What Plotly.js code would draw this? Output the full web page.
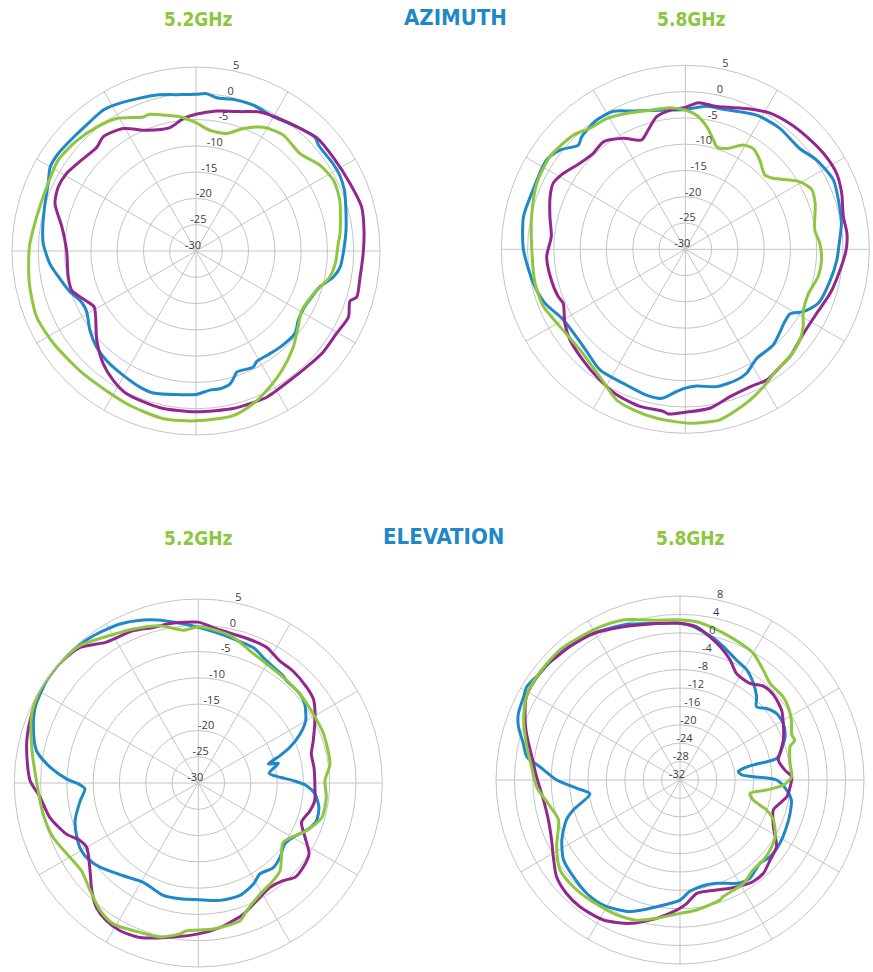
<!DOCTYPE html>
<html><head><meta charset="utf-8">
<script src="https://cdn.plot.ly/plotly-3.0.1.min.js"></script>
<style>html,body{margin:0;padding:0;background:#fff;overflow:hidden;} #chart{width:890px;height:972px;}</style>
</head><body><div id="chart"></div>
<script>
// ---------- AZIMUTH 5.2 GHz ----------
const az52BlueTheta = [0,3.9,7.7,13.8,21.5,30,40.4,46.4,49.2,57.5,62.3,67.8,73.6,82.2,88.5,96.3,100.7,106.2,111.7,118.2,124.1,129.9,138.8,145.9,151.3,153.7,161.4,162.6,165.6,170.1,174.3,180,186.4,196.7,202.4,210.3,219.3,226,233.2,240,243.2,247,252,259.3,265,272.8,278.9,287.4,294.5,299.9,305.3,312.9,320.6,326.7,334,345.8,354.2];
const az52BlueR = [-0.2,0.0,-0.6,-0.3,-0.2,-0.5,0.6,1.3,0.8,0.9,0.9,0.5,-0.3,-1.2,-1.8,-2.4,-3.4,-5.5,-6.3,-6.8,-6.5,-5.5,-5.7,-6.0,-6.0,-5.4,-5.7,-5.2,-3.9,-3.4,-3.4,-2.7,-2.5,-1.8,-2.0,-2.6,-3.1,-3.7,-4.8,-6.1,-6.3,-6.0,-4.8,-3.4,-2.1,-0.9,-0.5,0.1,0.9,2.0,2.1,1.8,1.8,2.1,1.5,0.6,-0.1];
const az52PurpleTheta = [0,8.4,17.5,24.7,33.8,40.4,46.8,55.6,66.4,75.1,83,90.9,99,106,108,113.4,120.4,128.4,136.3,144,154.2,160.5,166.7,180,192.9,205.9,212.6,219.4,228,241.2,245.4,252.4,258.5,270,280.1,288.6,294.9,300.9,308.4,316.3,321,329.3,337.8,348.1,354.5];
const az52PurpleR = [-4.0,-3.1,-2.2,-0.9,-0.1,0.6,1.5,1.6,2.0,2.6,2.2,1.8,1.6,1.8,0.8,1.6,1.0,0.9,0.5,0.4,0.9,0.8,0.8,0.6,0.6,0.2,-0.8,-2.2,-4.6,-7.9,-7.1,-5.2,-5.2,-5.4,-4.1,-1.7,-1.1,-1.3,-2.2,-2.7,-2.0,-2.9,-5.2,-6.0,-4.7];
const az52GreenTheta = [0,6.6,14.6,21.2,28.6,37,46.9,55.4,62.8,70.6,83.1,87,95.2,101,110,119.3,126.6,134.6,144.3,151.4,159.4,167.2,180,191,204.4,222.6,237,247.5,258.9,271.4,282,293.2,303.4,312.8,321.3,329,338.5,340.8,347.8,353.9];
const az52GreenR = [-5.6,-6.9,-6.9,-5.0,-3.2,-2.4,-2.9,-1.3,-0.6,-1.0,-2.4,-2.9,-3.4,-4.1,-6.2,-6.9,-5.8,-4.0,-2.0,-0.6,1.0,2.1,2.3,2.5,1.9,1.7,2.3,2.8,2.3,1.7,1.0,0.9,1.4,0.9,0.2,-0.6,-2.6,-2.5,-3.6,-4.4];

// ---------- AZIMUTH 5.8 GHz ----------
const az58BlueTheta = [0,8.5,15.2,28,38,48.6,55.8,64.9,72.1,80.6,87.8,94,102,112.1,117.8,121.7,126,137.4,146.8,153.7,158.6,167.1,175.3,180,183.5,189,194.9,204.8,215.3,226.3,240,249,257.4,270,281.4,290,302.8,308.4,314.3,317.4,325.6,332.4,339.4,351];
const az58BlueR = [-3.4,-2.5,-2.4,-1.1,-0.8,-1.0,0.2,1.1,0.6,0.1,-0.7,-1.1,-1.8,-2.7,-4.6,-6.6,-6.6,-5.3,-5.2,-3.7,-3.3,-3.2,-3.9,-3.6,-2.9,-1.3,-1.3,-1.9,-1.9,-3.2,-3.2,-1.4,-0.4,0.8,1.4,1.1,1.4,0.4,-1.6,-0.9,-0.2,-0.4,-1.9,-3.2];
const az58PurpleTheta = [0,5.1,12.4,24.8,31.9,39.7,47.1,55.2,63.3,70.3,78.3,84.4,90.2,97.6,106.9,116,125.4,135.7,141.1,148.1,154.8,163.1,171.2,180,185.9,187.7,196.1,205.2,214.9,222.7,231.8,238.4,246.1,249.6,258.6,267,275.4,283.6,291.3,296.6,301,309.2,316.2,322.7,330.8,338.2,342.8,347.8,353.7];
const az58PurpleR = [-3.0,-2.0,-2.2,-0.6,0.5,1.1,1.5,2.0,2.2,1.6,0.7,0.9,0.6,-0.3,-1.2,-2.2,-2.4,-1.5,-1.3,-0.7,-1.1,-0.7,0.6,1.0,1.5,1.1,1.1,0.6,-0.5,-1.3,-2.1,-3.1,-4.6,-4.2,-3.8,-3.6,-4.4,-3.5,-2.4,-1.9,-2.5,-4.1,-4.7,-4.3,-5.8,-7.6,-6.2,-4.2,-3.4];
const az58GreenTheta = [0,4.8,9.9,14.4,17,22.3,29.1,34,39.9,47,51.1,59.5,64.8,70.5,81.5,87.4,94.5,101.6,109.7,114.3,118.5,123.2,128.3,135.7,142.9,150.4,156.8,162.3,168.5,178.5,189.6,197.9,204.5,213.8,226.3,238.3,248,257.3,270,282,293.9,304.4,315.6,321.8,329,338,345.8,353.8];
const az58GreenR = [-3.5,-4.4,-6.3,-8.5,-9.6,-9.3,-7.3,-6.9,-7.9,-9.3,-8.5,-4.7,-3.4,-3.8,-5.1,-4.4,-4.0,-4.2,-5.1,-5.0,-4.5,-3.2,-2.2,-1.5,-1.2,0.1,1.2,2.1,3.1,3.1,2.6,2.1,1.5,-0.8,-2.3,-2.0,-0.9,-0.7,-0.8,-0.1,0.9,1.2,0.4,-0.7,-1.0,-2.0,-2.7,-2.9];

// ---------- ELEVATION 5.2 GHz ----------
const el52BlueTheta = [0,6.9,13.7,22.1,29.2,38.4,40.8,48.8,53.5,59.9,64.3,68.7,71.5,74.8,76.2,82.2,86,88.6,91.4,95.4,101.4,107.7,112.7,119.8,125.1,132.3,138.4,145.9,151.4,159.7,169.6,180,189,197.3,203,209,219,229.4,234.4,239.9,245.9,253,261.5,267,269.2,271.7,276,281.3,288.6,294.9,304,314.4,324.5,333.8,341.4,345.7,352.3];
const el52BlueR = [-0.4,-1.2,-1.8,-2.2,-3.4,-4.0,-4.3,-4.3,-4.8,-6.4,-8.5,-11.3,-13.6,-16.2,-14.3,-16.4,-14.4,-11.9,-9.4,-7.7,-6.6,-6.4,-7.3,-9.2,-9.9,-9.0,-8.5,-9.1,-8.1,-7.2,-7.3,-7.8,-7.7,-7.6,-8.1,-8.4,-7.3,-5.4,-4.6,-4.3,-4.7,-5.5,-7.3,-8.4,-7.5,-5.0,-1.7,1.4,3.1,4.2,4.8,4.9,4.4,3.7,2.7,2.0,0.8];
const el52PurpleTheta = [0,5.5,13.2,21.1,26.7,33.7,40.2,48.6,53.9,59.4,69.8,75.6,82.3,92.1,98.6,103.9,110.8,117,122.6,128.8,134.3,139,145.5,153.6,161,165.7,171.5,180,191.6,200.7,207.9,213.7,219.3,224.7,231,240,244,248.8,257,264.8,270.8,276.3,283.9,292.5,301.1,310,318.9,326.9,336.9,343.9,349.9];
const el52PurpleR = [0.6,-0.3,-0.9,-1.0,-1.1,-2.1,-2.1,-2.5,-2.9,-4.2,-6.7,-7.8,-7.8,-7.8,-7.6,-8.1,-9.0,-7.2,-5.0,-4.4,-4.3,-5.4,-5.9,-5.0,-3.6,-3.0,-2.2,-1.3,0.0,1.4,1.8,1.5,0.6,-1.2,-3.5,-5.5,-5.0,-3.1,-1.0,0.2,2.0,2.7,3.6,4.3,4.9,4.9,4.2,2.0,1.5,0.8,0.8];
const el52GreenTheta = [0,6.9,13.5,21.3,29.9,38.8,48.8,59,68.6,81.8,88.9,96.4,105.6,113.7,124.9,131.7,137,142.5,150.9,159.3,163.2,174.1,184.5,186.9,194,201.3,211.1,217.6,225.2,233.1,239.9,249.5,258.7,270.8,282.1,292.5,300.6,310.2,319.2,329.1,337.1,346.3,354.4];
const el52GreenR = [-0.3,-0.8,-1.5,-3.0,-3.9,-4.2,-4.3,-4.5,-4.4,-4.7,-5.9,-5.5,-5.6,-7.5,-10.3,-8.8,-7.2,-6.6,-5.8,-4.0,-2.6,-2.1,-1.8,-1.1,0.2,0.5,1.3,0.6,-1.0,-2.2,-1.8,-0.5,0.1,0.8,2.4,4.3,4.9,4.9,4.5,2.7,1.8,0.8,-0.8];

// ---------- ELEVATION 5.8 GHz ----------
const el58BlueTheta = [0,5,8.9,13.2,18,25.3,31.2,37.2,42.6,46.3,50.4,55.4,61.3,67.6,75.1,77.4,78.1,78.4,79.6,81.9,85.4,87.4,90,95.4,100.2,106.9,113.6,122.3,130.4,136.2,144.6,149.9,160.5,165.7,174.9,180,190.4,200.8,211.5,219.5,227.8,235.6,243.1,250.6,254.3,261.2,265.4,270,275.4,278.7,283.2,288.3,292.4,298,301.3,307.3,316.9,328.2,339.9,351.5];
const el58BlueR = [2.1,1.5,0.6,-0.3,-1.5,-3.2,-4.0,-5.6,-7.4,-9.0,-7.6,-6.5,-6.4,-7.3,-9.5,-10.5,-12.7,-15.7,-18.0,-19.2,-18.5,-16.1,-11.0,-8.7,-7.4,-7.0,-6.7,-6.3,-6.3,-6.9,-5.8,-6.1,-8.2,-8.5,-7.7,-5.9,-4.0,-1.4,-0.1,-0.1,-0.7,-1.3,-3.2,-5.8,-7.9,-12.2,-9.5,-5.2,-1.4,1.7,3.0,5.0,6.0,6.5,7.0,6.3,6.2,5.1,3.9,2.4];
const el58PurpleTheta = [0,6.2,11.8,16.7,22.6,28,35.9,41.6,47.7,55.5,61.3,68.8,75.1,78.5,84.6,88.3,93.5,98.9,103.1,107.8,116.6,124.6,131.6,138.2,144.2,148.9,155.2,161.6,171.6,176.9,181.5,189.6,199.2,208.7,218.3,225,231.9,238.8,245,253.1,261.7,271.3,278.9,286.9,292.2,298.5,304.6,310.8,315,320.5,329.4,339.7,351.5];
const el58PurpleR = [2.1,1.5,-0.2,-1.7,-3.7,-5.8,-6.1,-4.7,-4.5,-5.2,-6.4,-7.9,-9.5,-10.2,-9.1,-7.7,-8.0,-8.5,-9.7,-10.7,-9.3,-6.5,-5.8,-4.8,-4.8,-5.3,-6.1,-6.8,-7.1,-5.1,-3.7,-1.5,1.0,2.7,3.1,2.9,2.1,0.2,-1.2,-2.1,-2.0,-0.8,0.6,2.9,4.4,6.0,6.3,6.3,5.9,5.6,5.0,3.5,2.4];
const el58GreenTheta = [0,6,11.1,16.5,23.7,30.1,37.1,43,51.1,55.9,61.7,68.1,70.8,73.1,81.4,88.3,92.8,96.6,100.8,105.3,109.1,113.2,120.8,127.9,133.8,140.8,148.5,159.6,161.6,172.7,180,189.6,197.2,205.1,216.9,225,233.1,241.6,251.8,258.4,267.3,275.1,282.3,291,298.5,305.8,317.3,331.2,340.5,351.7];
const el58GreenR = [2.8,2.6,2.0,1.3,0.5,-0.2,-2.0,-3.3,-3.2,-3.6,-4.5,-5.8,-5.6,-7.0,-7.8,-7.7,-9.5,-13.0,-16.5,-15.5,-12.1,-9.9,-7.9,-7.2,-6.9,-6.8,-5.6,-5.0,-4.5,-3.5,-3.0,-1.5,-0.1,0.4,0.6,0.8,0.6,-1.5,-4.2,-3.2,-0.8,0.4,2.1,4.4,6.0,6.4,6.5,5.6,4.9,3.1];

// ---------- radial ticks ----------
const stdRange = [-30, 5];
const stdTickVals = [-30, -25, -20, -15, -10, -5, 0, 5];
const stdTickText = ['-30', '-25', '-20', '-15', '-10', '-5', '0', '5'];
const el58Range = [-32, 8];
const el58TickVals = [-32, -28, -24, -20, -16, -12, -8, -4, 0, 4, 8];
const el58TickText = ['-32', '-28', '-24', '-20', '-16', '-12', '-8', '-4', '0', '4', '8'];

const BLUE = '#1e88c8', PURPLE = '#93278f', GREEN = '#8dc63f';
const GRID = '#c4c4c4';

function closed(a){ return a.concat([a[0]]); }
function tr(theta, r, color, sub, name){
  return {type:'scatterpolar', mode:'lines', theta: closed(theta), r: closed(r), subplot: sub, name: name,
    line:{color: color, width: 3, shape:'spline', smoothing: 0.7}, showlegend:false, hoverinfo:'skip'};
}
function empty(sub){ return {type:'scatterpolar', mode:'lines', r:[], theta:[], subplot:sub, showlegend:false, hoverinfo:'skip'}; }

const data = [
  tr(az52BlueTheta, az52BlueR, BLUE, 'polar', 'blue'),
  tr(az52PurpleTheta, az52PurpleR, PURPLE, 'polar', 'purple'),
  tr(az52GreenTheta, az52GreenR, GREEN, 'polar', 'green'),
  tr(az58BlueTheta, az58BlueR, BLUE, 'polar2', 'blue'),
  tr(az58PurpleTheta, az58PurpleR, PURPLE, 'polar2', 'purple'),
  tr(az58GreenTheta, az58GreenR, GREEN, 'polar2', 'green'),
  tr(el52BlueTheta, el52BlueR, BLUE, 'polar3', 'blue'),
  tr(el52PurpleTheta, el52PurpleR, PURPLE, 'polar3', 'purple'),
  tr(el52GreenTheta, el52GreenR, GREEN, 'polar3', 'green'),
  tr(el58BlueTheta, el58BlueR, BLUE, 'polar4', 'blue'),
  tr(el58PurpleTheta, el58PurpleR, PURPLE, 'polar4', 'purple'),
  tr(el58GreenTheta, el58GreenR, GREEN, 'polar4', 'green'),
  empty('polar5'), empty('polar6'), empty('polar7'), empty('polar8')
];

// canvas (slightly wider than the window so the shifted label subplots fit)
const PW = 890, PH = 972, RAD = 184;
function dom(cx, cy, sx, sy){
  return {x:[(cx+sx-RAD)/PW, (cx+sx+RAD)/PW], y:[(PH-cy+sy-RAD)/PH, (PH-cy+sy+RAD)/PH]};
}
const C1 = [196, 251], C2 = [685.3, 249.3], C3 = [198.3, 783], C4 = [680, 780];
const LX = 13, LY = 6;

// grid-only polar (circles + spokes)
function gridPolar(c, range, vals){
  return {
    domain: dom(c[0], c[1], 0, 0),
    bgcolor:'rgba(0,0,0,0)',
    angularaxis:{rotation:90, direction:'clockwise', dtick:30, tick0:0, showticklabels:false, ticks:'',
      showgrid:true, gridcolor:GRID, gridwidth:1, showline:true, linecolor:GRID, linewidth:1},
    radialaxis:{range:range, tickmode:'array', tickvals:vals, showticklabels:false,
      showline:false, ticks:'', showgrid:true, gridcolor:GRID, gridwidth:1}
  };
}
// label-only polar: same scale, radial tick labels along a slightly tilted line
function labelPolar(c, range, vals, texts){
  return {
    domain: dom(c[0], c[1], LX, LY),
    bgcolor:'rgba(0,0,0,0)',
    angularaxis:{visible:false, showgrid:false, showline:false, showticklabels:false, ticks:''},
    radialaxis:{range:range, tickmode:'array', tickvals:vals, ticktext:texts, angle:78, tickangle:78,
      side:'counterclockwise', showline:false, showgrid:false, ticks:'',
      tickfont:{family:'Open Sans, sans-serif', size:11, color:'#3c3c3c'}}
  };
}

const titleFont = (size, color) => ({family:'DejaVu Sans Condensed, Liberation Sans Narrow, sans-serif', size:size, color:color, weight:'bold'});
function title(text, px, py, size, color){
  return {text:'<b>'+text+'</b>', x:px/PW, y:1-py/PH, xref:'paper', yref:'paper', xanchor:'center', yanchor:'middle', showarrow:false, font:titleFont(size, color)};
}

const layout = {
  width:PW, height:PH, margin:{l:0,r:0,t:0,b:0}, paper_bgcolor:'#fff', plot_bgcolor:'#fff', showlegend:false,
  polar:  gridPolar(C1, stdRange, stdTickVals),
  polar2: gridPolar(C2, stdRange, stdTickVals),
  polar3: gridPolar(C3, stdRange, stdTickVals),
  polar4: gridPolar(C4, el58Range, el58TickVals),
  polar5: labelPolar(C1, stdRange, stdTickVals, stdTickText),
  polar6: labelPolar(C2, stdRange, stdTickVals, stdTickText),
  polar7: labelPolar(C3, stdRange, stdTickVals, stdTickText),
  polar8: labelPolar(C4, el58Range, el58TickVals, el58TickText),
  annotations:[
    title('5.2GHz', 198.6, 19, 19, GREEN),
    title('AZIMUTH', 455.5, 17.5, 22, BLUE),
    title('5.8GHz', 691, 19, 19, GREEN),
    title('5.2GHz', 198, 538, 19, GREEN),
    title('ELEVATION', 443, 536, 22, BLUE),
    title('5.8GHz', 690, 538, 19, GREEN)
  ]
};

Plotly.newPlot('chart', data, layout, {staticPlot:true, displayModeBar:false});
</script>
</body></html>
